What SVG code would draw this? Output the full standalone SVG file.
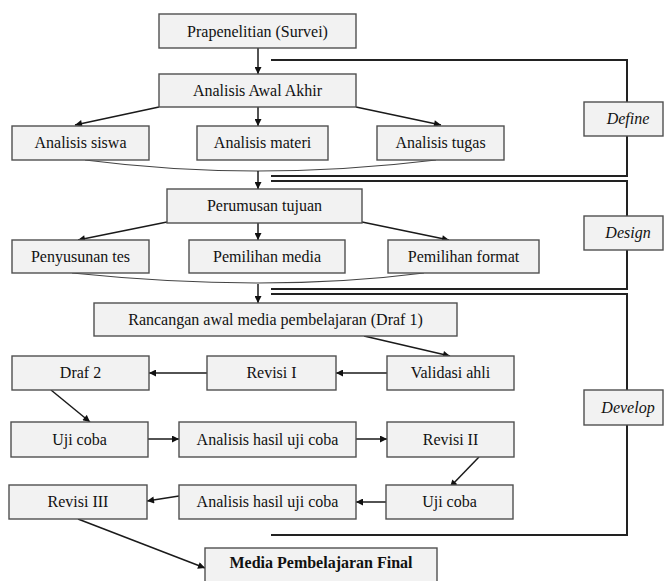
<svg xmlns="http://www.w3.org/2000/svg" width="664" height="581" viewBox="0 0 664 581">
<defs>
<marker id="ah" viewBox="0 0 10 10" refX="10" refY="5" markerWidth="8" markerHeight="7" markerUnits="userSpaceOnUse" orient="auto">
<path d="M0,0 L10,5 L0,10 z" fill="#111"/>
</marker>
</defs>
<style>
.box{fill:#f2f2f2;stroke:#505050;stroke-width:1.4}
.t{font-family:"Liberation Serif","Times New Roman",serif;font-size:16px;fill:#111;text-anchor:middle}
.b{font-weight:bold}
.i{font-style:italic}
.c{fill:none;stroke:#1a1a1a;stroke-width:1.5}
.a{marker-end:url(#ah)}
.cv{fill:none;stroke:#444;stroke-width:1.1}
.br{fill:none;stroke:#222;stroke-width:2}
</style>
<rect width="664" height="581" fill="#fff"/>
<g id="connectors">
<path class="br" d="M271,60 H627 V176 H271"/>
<path class="br" d="M271,181 H627 V289 H271"/>
<path class="br" d="M271,294 H627 V535 H271"/>
<line class="c a" x1="258" y1="48" x2="258" y2="74"/>
<line class="c a" x1="159" y1="107" x2="75" y2="125"/>
<line class="c a" x1="258" y1="107" x2="258" y2="126"/>
<line class="c a" x1="356" y1="107" x2="441" y2="125"/>
<path class="cv" d="M85,160 Q255.5,182 436,160"/>
<line class="c a" x1="258" y1="171" x2="258" y2="189"/>
<line class="c a" x1="167" y1="222" x2="78" y2="240"/>
<line class="c a" x1="258" y1="223" x2="258" y2="240"/>
<line class="c a" x1="362" y1="222" x2="449" y2="240"/>
<path class="cv" d="M72,273 Q268,293 424,273"/>
<line class="c a" x1="258" y1="284" x2="258" y2="303"/>
<line class="c a" x1="364" y1="336" x2="450" y2="356"/>
<line class="c a" x1="387" y1="373" x2="336" y2="373"/>
<line class="c a" x1="207" y1="373" x2="149" y2="373"/>
<line class="c a" x1="51" y1="390" x2="90" y2="422"/>
<line class="c a" x1="148" y1="439" x2="179" y2="439"/>
<line class="c a" x1="356" y1="439" x2="387" y2="439"/>
<line class="c a" x1="479" y1="457" x2="450" y2="487"/>
<line class="c a" x1="386" y1="502" x2="356" y2="502"/>
<line class="c a" x1="179" y1="496" x2="147" y2="501"/>
<line class="c a" x1="78" y1="519" x2="205" y2="568"/>
</g>
<g id="n-prapenelitian"><rect class="box" x="159" y="14" width="197" height="34"/><text class="t" x="257.5" y="36.5">Prapenelitian (Survei)</text></g>
<g id="n-analisis-awal"><rect class="box" x="159" y="74" width="197" height="33"/><text class="t" x="257.5" y="96">Analisis Awal Akhir</text></g>
<g id="n-analisis-siswa"><rect class="box" x="12" y="126" width="137" height="34"/><text class="t" x="80.5" y="148">Analisis siswa</text></g>
<g id="n-analisis-materi"><rect class="box" x="197" y="126" width="131" height="34"/><text class="t" x="262.5" y="148">Analisis materi</text></g>
<g id="n-analisis-tugas"><rect class="box" x="377" y="126" width="127" height="34"/><text class="t" x="440.5" y="148">Analisis tugas</text></g>
<g id="n-perumusan"><rect class="box" x="167" y="189" width="195" height="34"/><text class="t" x="264.5" y="211">Perumusan tujuan</text></g>
<g id="n-penyusunan"><rect class="box" x="12" y="240" width="137" height="33"/><text class="t" x="80.5" y="262">Penyusunan tes</text></g>
<g id="n-pemilihan-media"><rect class="box" x="189" y="240" width="156" height="33"/><text class="t" x="267" y="262">Pemilihan media</text></g>
<g id="n-pemilihan-format"><rect class="box" x="388" y="240" width="151" height="33"/><text class="t" x="463.5" y="262">Pemilihan format</text></g>
<g id="n-rancangan"><rect class="box" x="94" y="303" width="363" height="33"/><text class="t" x="275.5" y="325">Rancangan awal media pembelajaran (Draf 1)</text></g>
<g id="n-draf2"><rect class="box" x="12" y="356" width="137" height="34"/><text class="t" x="80.5" y="378">Draf 2</text></g>
<g id="n-revisi1"><rect class="box" x="207" y="356" width="129" height="34"/><text class="t" x="271.5" y="378">Revisi I</text></g>
<g id="n-validasi"><rect class="box" x="387" y="356" width="127" height="34"/><text class="t" x="450.5" y="378">Validasi ahli</text></g>
<g id="n-ujicoba1"><rect class="box" x="11" y="422" width="137" height="35"/><text class="t" x="79.5" y="444.5">Uji coba</text></g>
<g id="n-analisis-hasil1"><rect class="box" x="179" y="422" width="177" height="35"/><text class="t" x="267.5" y="444.5">Analisis hasil uji coba</text></g>
<g id="n-revisi2"><rect class="box" x="387" y="422" width="127" height="35"/><text class="t" x="450.5" y="444.5">Revisi II</text></g>
<g id="n-revisi3"><rect class="box" x="9" y="485" width="138" height="34"/><text class="t" x="78" y="507">Revisi III</text></g>
<g id="n-analisis-hasil2"><rect class="box" x="179" y="485" width="177" height="34"/><text class="t" x="267.5" y="507">Analisis hasil uji coba</text></g>
<g id="n-ujicoba2"><rect class="box" x="386" y="485" width="127" height="34"/><text class="t" x="449.5" y="507">Uji coba</text></g>
<g id="n-final"><rect class="box" x="205" y="548" width="232" height="40"/><text class="t b" x="321" y="568">Media Pembelajaran Final</text></g>
<g id="n-define"><rect class="box" x="584" y="102" width="79" height="34"/><text class="t i" x="628" y="124">Define</text></g>
<g id="n-design"><rect class="box" x="584" y="216" width="79" height="34"/><text class="t i" x="628" y="238">Design</text></g>
<g id="n-develop"><rect class="box" x="584" y="390" width="79" height="35"/><text class="t i" x="628" y="412.5">Develop</text></g>
</svg>
